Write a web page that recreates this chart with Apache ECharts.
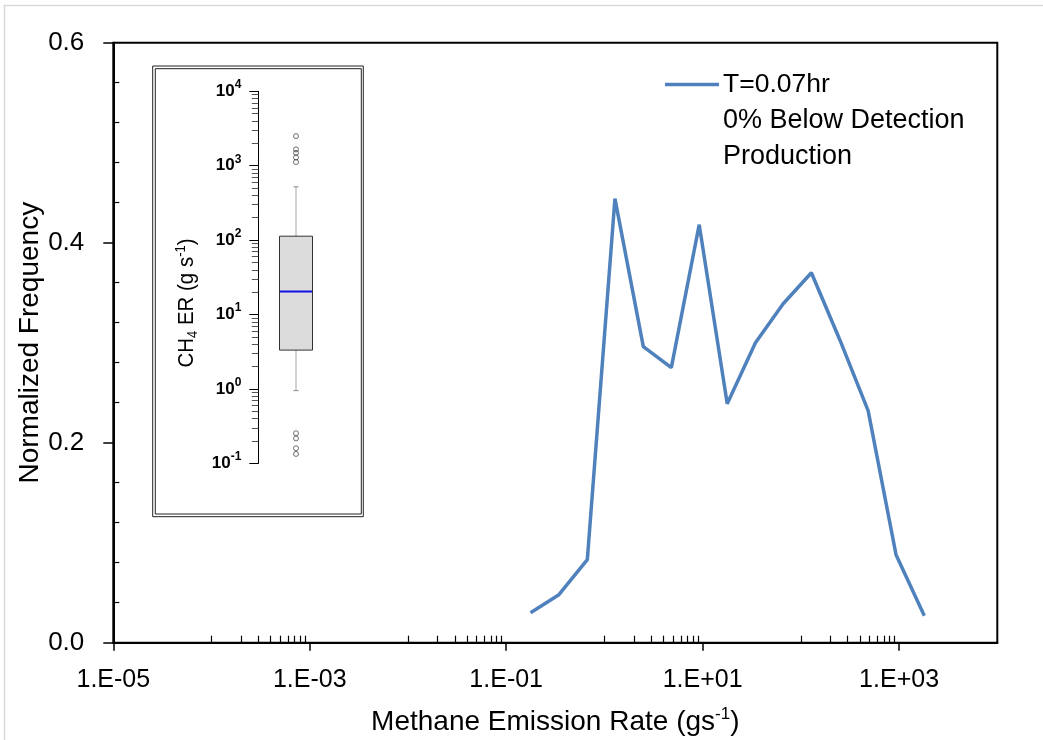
<!DOCTYPE html>
<html>
<head>
<meta charset="utf-8">
<script src="https://cdn.jsdelivr.net/npm/echarts@6/dist/echarts.min.js"></script>
<style>
html, body { margin: 0; padding: 0; background: #fff; }
#chart_main { width: 1043px; height: 740px; }
</style>
</head>
<body>
<div id="chart_main"></div>
<script>
// main histogram line (emission rate in g/s, normalized frequency)
var rateX = [0.177, 0.344, 0.670, 1.28, 2.49, 4.80, 9.23, 17.8, 34.5, 66.1, 128, 249, 484, 931, 1807];
var freqY = [0.030, 0.048, 0.083, 0.444, 0.296, 0.275, 0.418, 0.239, 0.300, 0.339, 0.370, 0.303, 0.232, 0.088, 0.027];

// inset box plot: [low whisker, Q1, median, Q3, high whisker]
var insetBox = [0.95, 3.33, 20.4, 113, 520];
var insetOutliers = [2500, 1660, 1490, 1290, 1120, 0.254, 0.217, 0.160, 0.134];

// axis ticks
var xMajorTicks = [1e-5, 1e-3, 1e-1, 1e1, 1e3];
var xMinorDecades = [-4, -2, 0, 2];
var yMinorTicks = [0.04, 0.08, 0.12, 0.16, 0.24, 0.28, 0.32, 0.36, 0.44, 0.48, 0.52, 0.56];
var insetDecades = [0.1, 1, 10, 100, 1000, 10000];

var FONT = 'Liberation Sans';

var xMinorTicks = [];
xMinorDecades.forEach(function (e) {
    for (var k = 1; k <= 9; k++) xMinorTicks.push(k * Math.pow(10, e));
});
var insetMinor = [];
for (var e = -1; e < 4; e++) {
    for (var k = 2; k <= 9; k++) insetMinor.push(k * Math.pow(10, e));
}

var lineData = rateX.map(function (x, i) { return [x, freqY[i]]; });
var outlierData = insetOutliers.map(function (v) { return [0, v]; });

var myChart = echarts.init(document.getElementById('chart_main'));

function expLabel(v) {
    var e = Math.round(Math.log10(v));
    var a = Math.abs(e);
    return '1.E' + (e < 0 ? '-' : '+') + (a < 10 ? '0' : '') + a;
}

function renderBox(params, api) {
    var cx = api.coord([api.value(0), api.value(3)])[0];
    var pLow = api.coord([api.value(0), api.value(1)]);
    var pQ1 = api.coord([api.value(0), api.value(2)]);
    var pMed = api.coord([api.value(0), api.value(3)]);
    var pQ3 = api.coord([api.value(0), api.value(4)]);
    var pHigh = api.coord([api.value(0), api.value(5)]);
    var hw = 16.5;
    var cap = 2.5;
    return {
        type: 'group',
        children: [
            {type: 'line', shape: {x1: cx, y1: pQ3[1], x2: cx, y2: pHigh[1]}, style: {stroke: '#a6a6a6', lineWidth: 1}},
            {type: 'line', shape: {x1: cx, y1: pQ1[1], x2: cx, y2: pLow[1]}, style: {stroke: '#a6a6a6', lineWidth: 1}},
            {type: 'line', shape: {x1: cx - cap, y1: pHigh[1], x2: cx + cap, y2: pHigh[1]}, style: {stroke: '#888', lineWidth: 1}},
            {type: 'line', shape: {x1: cx - cap, y1: pLow[1], x2: cx + cap, y2: pLow[1]}, style: {stroke: '#888', lineWidth: 1}},
            {type: 'rect', shape: {x: cx - hw, y: pQ3[1], width: 2 * hw, height: pQ1[1] - pQ3[1]},
                style: {fill: '#dcdcdc', stroke: '#333', lineWidth: 1}},
            {type: 'line', shape: {x1: cx - hw + 0.5, y1: pMed[1], x2: cx + hw - 0.5, y2: pMed[1]},
                style: {stroke: '#1010e0', lineWidth: 2}}
        ]
    };
}

var option = {
    animation: false,
    backgroundColor: '#fff',
    textStyle: {fontFamily: FONT},
    grid: [
        {left: 113.3, top: 42.7, right: 45.7, bottom: 97.3, outerBoundsMode: 'none', containLabel: false,
            show: true, borderColor: '#000', borderWidth: 2, backgroundColor: 'transparent'},
        {left: 258.3, top: 91.3, width: 75.4, height: 372.1, outerBoundsMode: 'none', containLabel: false}
    ],
    legend: {
        data: [{name: 'T=0.07hr', icon: 'rect'}],
        left: 665,
        top: 71,
        padding: 0,
        itemWidth: 54,
        itemHeight: 3.5,
        itemGap: 5,
        textStyle: {fontSize: 26.5, color: '#000', fontFamily: FONT, padding: [0, 0, 0, -1]}
    },
    xAxis: [
        {
            type: 'log', logBase: 10, gridIndex: 0, min: 1e-5, max: 1e4, position: 'bottom',
            name: '{a|Methane Emission Rate (gs}{sup|-1}{a|)}',
            nameLocation: 'middle', nameGap: 63, nameMoveOverlap: false,
            nameTextStyle: {
                rich: {
                    a: {fontSize: 28, fontFamily: FONT, color: '#000', lineHeight: 34},
                    sup: {fontSize: 17, fontFamily: FONT, color: '#000', lineHeight: 22, verticalAlign: 'top'}
                }
            },
            axisLine: {lineStyle: {color: '#000', width: 2}},
            axisTick: {show: true, length: 8, customValues: xMajorTicks, lineStyle: {color: '#000', width: 1.5}},
            axisLabel: {customValues: xMajorTicks, formatter: expLabel, fontSize: 25, color: '#000', margin: 25, fontFamily: FONT},
            splitLine: {show: false}
        },
        {
            type: 'log', logBase: 10, gridIndex: 0, min: 1e-5, max: 1e4, position: 'bottom',
            axisLine: {show: false},
            axisTick: {show: true, inside: true, length: 7, customValues: xMinorTicks, lineStyle: {color: '#000', width: 1.2}},
            axisLabel: {show: false},
            splitLine: {show: false}
        },
        {
            type: 'category', gridIndex: 1, data: ['ER'],
            axisLine: {show: false}, axisTick: {show: false}, axisLabel: {show: false}, splitLine: {show: false}
        }
    ],
    yAxis: [
        {
            type: 'value', gridIndex: 0, min: 0, max: 0.6, interval: 0.2, position: 'left',
            name: 'Normalized Frequency', nameLocation: 'middle', nameGap: 69, nameRotate: 90, nameMoveOverlap: false,
            nameTextStyle: {fontSize: 28, color: '#000', fontFamily: FONT},
            axisLine: {show: true, lineStyle: {color: '#000', width: 2}},
            axisTick: {show: true, length: 10, lineStyle: {color: '#000', width: 1.5}},
            axisLabel: {formatter: function (v) { return v.toFixed(1); }, fontSize: 26, color: '#000', margin: 29, fontFamily: FONT},
            splitLine: {show: false}
        },
        {
            type: 'value', gridIndex: 0, min: 0, max: 0.6, position: 'left',
            axisLine: {show: false},
            axisTick: {show: true, inside: true, length: 6, customValues: yMinorTicks, lineStyle: {color: '#000', width: 1.2}},
            axisLabel: {show: false},
            splitLine: {show: false}
        },
        {
            type: 'log', logBase: 10, gridIndex: 1, min: 0.1, max: 1e4, position: 'left',
            axisLine: {show: true, lineStyle: {color: '#000', width: 1}},
            axisTick: {show: true, length: 9, customValues: insetDecades, lineStyle: {color: '#000', width: 1}},
            axisLabel: {
                customValues: insetDecades, margin: 17,
                fontSize: 17, fontWeight: 'bold', fontFamily: FONT, color: '#000',
                formatter: function (v) { return '{b|10}{s|' + Math.round(Math.log10(v)) + '}'; },
                rich: {
                    b: {fontSize: 17, fontWeight: 'bold', fontFamily: FONT, color: '#000', lineHeight: 25},
                    s: {fontSize: 12, fontWeight: 'bold', fontFamily: FONT, color: '#000', lineHeight: 12, verticalAlign: 'top'}
                }
            },
            splitLine: {show: false}
        },
        {
            type: 'log', logBase: 10, gridIndex: 1, min: 0.1, max: 1e4, position: 'left',
            axisLine: {show: false},
            axisTick: {show: true, length: 6.5, customValues: insetMinor, lineStyle: {color: '#555', width: 1}},
            axisLabel: {show: false},
            splitLine: {show: false}
        }
    ],
    series: [
        {
            name: 'T=0.07hr',
            type: 'line',
            xAxisIndex: 0, yAxisIndex: 0,
            data: lineData,
            symbol: 'none',
            lineStyle: {color: '#4f81bd', width: 3.5},
            itemStyle: {color: '#4f81bd'},
            z: 3
        },
        {
            name: 'box',
            type: 'custom',
            xAxisIndex: 2, yAxisIndex: 2,
            renderItem: renderBox,
            data: [[0].concat(insetBox)],
            z: 3
        },
        {
            name: 'outliers',
            type: 'scatter',
            xAxisIndex: 2, yAxisIndex: 2,
            data: outlierData,
            symbol: 'circle',
            symbolSize: 5,
            itemStyle: {color: 'rgba(0,0,0,0)', borderColor: '#222', borderWidth: 0.8},
            z: 4
        }
    ],
    graphic: [
        {type: 'rect', shape: {x: 4.5, y: 5.5, width: 1100, height: 800}, style: {fill: 'none', stroke: '#d9d9d9', lineWidth: 1.5}, z: 0},
        {type: 'rect', shape: {x: 152.7, y: 66, width: 210.6, height: 450.7}, style: {fill: 'none', stroke: '#222', lineWidth: 1}, z: 1},
        {type: 'rect', shape: {x: 155.3, y: 68.7, width: 206, height: 445.3}, style: {fill: 'none', stroke: '#222', lineWidth: 1}, z: 1},
        {
            type: 'text', x: 186.7, y: 303, rotation: Math.PI / 2, scaleX: 0.93, z: 5,
            style: {
                text: '{a|CH}{sub|4}{a| ER (g s}{sup|-1}{a|)}',
                align: 'center', verticalAlign: 'middle',
                rich: {
                    a: {fontSize: 22, fontFamily: FONT, fill: '#000', lineHeight: 26},
                    sub: {fontSize: 14, fontFamily: FONT, fill: '#000', lineHeight: 14, verticalAlign: 'bottom'},
                    sup: {fontSize: 14, fontFamily: FONT, fill: '#000', lineHeight: 20, verticalAlign: 'top'}
                }
            }
        },
        {type: 'text', x: 723, y: 120.3, z: 5, style: {text: '0% Below Detection', font: '27px "' + FONT + '"', fill: '#000', verticalAlign: 'middle'}},
        {type: 'text', x: 723, y: 156.9, z: 5, style: {text: 'Production', font: '27px "' + FONT + '"', fill: '#000', verticalAlign: 'middle'}}
    ]
};

myChart.setOption(option);
</script>
</body>
</html>
